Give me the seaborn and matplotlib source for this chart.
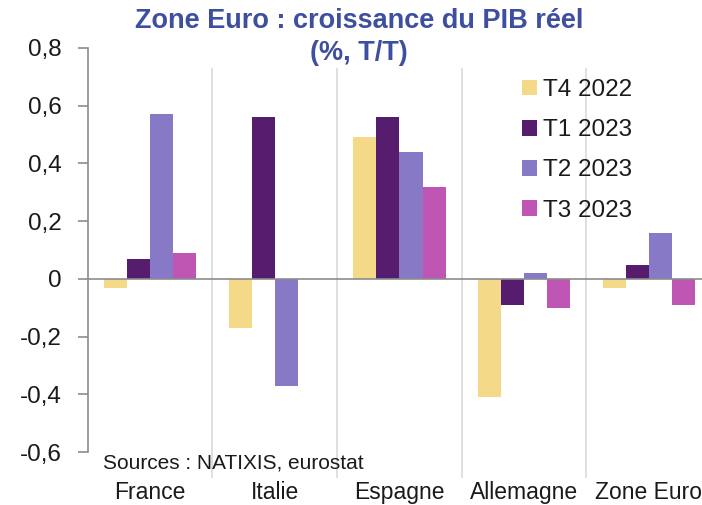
import pandas as pd
import matplotlib
matplotlib.use('Agg')
import matplotlib.pyplot as plt
import seaborn as sns

# données (%, T/T)
pays = ["France", "Italie", "Espagne", "Allemagne", "Zone Euro"]
trimestres = ["T4 2022", "T1 2023", "T2 2023", "T3 2023"]
t4_2022 = [-0.03, -0.17, 0.49, -0.41, -0.03]
t1_2023 = [0.07, 0.56, 0.56, -0.09, 0.05]
t2_2023 = [0.57, -0.37, 0.44, 0.02, 0.16]
t3_2023 = [0.09, 0.0, 0.32, -0.10, -0.09]
couleurs = ["#F3D988", "#561C6E", "#8779C5", "#C056B4"]
yticks = [-0.6, -0.4, -0.2, 0, 0.2, 0.4, 0.6, 0.8]

sns.set_theme(style="white")
plt.rcParams['font.family'] = ['Liberation Sans', 'DejaVu Sans']

rows = []
for t, vals in zip(trimestres, [t4_2022, t1_2023, t2_2023, t3_2023]):
    for p, v in zip(pays, vals):
        rows.append({"pays": p, "trimestre": t, "val": v})
df = pd.DataFrame(rows)

fig = plt.figure(figsize=(7.02, 5.05), dpi=100)
ax = fig.add_axes([0.125, 0.053, 0.888, 0.852])

sns.barplot(data=df, x="pays", y="val", hue="trimestre", order=pays,
            hue_order=trimestres, palette=couleurs, saturation=1,
            width=0.74, ax=ax, errorbar=None, linewidth=0)

ax.set_xlim(-0.5, 4.5)
ax.set_ylim(-0.69, 0.8)
ax.set_yticks(yticks)
ax.set_yticklabels([("%g" % v).replace(".", ",") for v in yticks], fontsize=17.5)
ax.set_xlabel("")
ax.set_ylabel("")
ax.tick_params(axis="x", length=0, labelsize=16.5, pad=2)
ax.tick_params(axis="y", direction="out", length=7.5, width=1.2, color="#8c8c8c",
               left=True, pad=11)
for lab in ax.get_xticklabels() + ax.get_yticklabels():
    lab.set_color("#1a1a1a")

for s in ["top", "right", "bottom"]:
    ax.spines[s].set_visible(False)
ax.spines["left"].set_color("#8c8c8c")
ax.spines["left"].set_linewidth(1.2)
ax.spines["left"].set_bounds(-0.6, 0.8)

ax.axhline(0, color="#8c8c8c", linewidth=1.2, zorder=1)
for xs in [0.5, 1.5, 2.5, 3.5]:
    ax.vlines(xs, -0.69, 0.73, color="#d9d9d9", linewidth=1.2, zorder=0)

leg = ax.legend(loc="upper left", bbox_to_anchor=(522 / 702, 1 - 79 / 505),
                bbox_transform=fig.transFigure, frameon=False,
                fontsize=17.5, handlelength=0.62, handleheight=0.62,
                handletextpad=0.25, labelspacing=0.75,
                borderpad=0, borderaxespad=0)
for txt in leg.get_texts():
    txt.set_color("#1a1a1a")

fig.text(0.511, 0.985, "Zone Euro : croissance du PIB réel\n(%, T/T)",
         ha="center", va="top", fontsize=19.5, fontweight="bold",
         color="#3E4FA0", linespacing=1.3)
ax.text(-0.38, -0.637, "Sources : NATIXIS, eurostat", fontsize=15,
        color="#1a1a1a", ha="left", va="center")

fig.savefig("out.png", dpi=100)
